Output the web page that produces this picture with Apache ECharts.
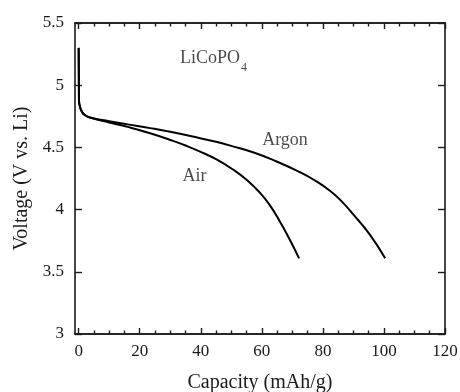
<!DOCTYPE html>
<html>
<head>
<meta charset="utf-8">
<script src="https://cdn.jsdelivr.net/npm/echarts@6/dist/echarts.min.js"></script>
<style>
  html, body { margin: 0; padding: 0; background: #fff; }
  #chart { width: 460px; height: 392px; }
</style>
</head>
<body>
<div id="chart"></div>
<script>
// discharge curves: [capacity mAh/g, voltage V]
var argonCapacity = [0, 0.1, 0.4, 1, 2, 3.7, 10, 16, 23.4, 30, 39.8, 45, 50, 57.8, 65, 72.6, 77, 82.4, 86, 90, 95.5, 100.4];
var argonVoltage  = [5.30, 4.88, 4.83, 4.79, 4.76, 4.74, 4.71, 4.685, 4.655, 4.625, 4.574, 4.545, 4.512, 4.455, 4.385, 4.30, 4.24, 4.15, 4.07, 3.96, 3.795, 3.608];

var airCapacity = [0, 0.1, 0.4, 1, 2, 3.7, 10, 16, 23.4, 30, 35, 39.8, 45, 50.7, 55, 59.4, 62.5, 66, 69, 72.2];
var airVoltage  = [5.30, 4.88, 4.83, 4.79, 4.76, 4.74, 4.70, 4.665, 4.614, 4.56, 4.515, 4.466, 4.405, 4.32, 4.24, 4.135, 4.04, 3.90, 3.765, 3.608];

var xMajorTicks = [0, 20, 40, 60, 80, 100, 120];
var xMinorTicks = [5, 10, 15, 25, 30, 35, 45, 50, 55, 65, 70, 75, 85, 90, 95, 105, 110, 115];

var noteNames = ['LiCoPO{sub|4}', 'Argon', 'Air'];
var noteX = [33.2, 60.1, 34];
var noteY = [5.22, 4.56, 4.27];

function pairs(xs, ys) {
  return xs.map(function (x, i) { return [x, ys[i]]; });
}

var font = "'Liberation Serif', 'Times New Roman', serif";
var ink = '#1a1a1a';

function xAxisDef(pos, ticks, len, showLabel) {
  return {
    type: 'value',
    position: pos,
    min: -1.2,
    max: 120,
    splitLine: { show: false },
    axisLine: { show: true, onZero: false, lineStyle: { color: ink, width: 1.6 } },
    axisTick: { show: true, inside: true, length: len, customValues: ticks, lineStyle: { color: ink, width: 1.4 } },
    axisLabel: showLabel
      ? { show: true, customValues: ticks, margin: 9, color: ink, fontSize: 17, fontFamily: font }
      : { show: false }
  };
}

var bottomAxis = xAxisDef('bottom', xMajorTicks, 6, true);
bottomAxis.name = 'Capacity (mAh/g)';
bottomAxis.nameLocation = 'middle';
bottomAxis.nameGap = 39;
bottomAxis.nameTextStyle = { color: ink, fontSize: 20, fontFamily: font };

var chart = echarts.init(document.getElementById('chart'));
chart.setOption({
  animation: false,
  backgroundColor: '#fff',
  grid: { left: 75, right: 15, top: 23, bottom: 58, containLabel: false, outerBoundsMode: 'none' },
  xAxis: [
    bottomAxis,
    xAxisDef('bottom', xMinorTicks, 3.5, false),
    xAxisDef('top', xMajorTicks, 6, false),
    xAxisDef('top', xMinorTicks, 3.5, false)
  ],
  yAxis: [
    {
      type: 'value',
      position: 'left',
      min: 3,
      max: 5.5,
      interval: 0.5,
      name: 'Voltage (V vs. Li)',
      nameLocation: 'middle',
      nameGap: 40,
      nameTextStyle: { color: ink, fontSize: 20, fontFamily: font },
      splitLine: { show: false },
      axisLine: { show: true, onZero: false, lineStyle: { color: ink, width: 1.6 } },
      axisTick: { show: true, inside: true, length: 7, lineStyle: { color: ink, width: 1.4 } },
      axisLabel: { margin: 11, color: ink, fontSize: 17, fontFamily: font }
    },
    {
      type: 'value',
      position: 'right',
      min: 3,
      max: 5.5,
      interval: 0.5,
      splitLine: { show: false },
      axisLine: { show: true, onZero: false, lineStyle: { color: ink, width: 1.6 } },
      axisTick: { show: true, inside: true, length: 7, lineStyle: { color: ink, width: 1.4 } },
      axisLabel: { show: false }
    }
  ],
  series: [
    {
      name: 'Argon',
      type: 'line',
      data: pairs(argonCapacity, argonVoltage),
      showSymbol: false,
      smooth: 0.5,
      lineStyle: { color: '#000', width: 2 }
    },
    {
      name: 'Air',
      type: 'line',
      data: pairs(airCapacity, airVoltage),
      showSymbol: false,
      smooth: 0.5,
      lineStyle: { color: '#000', width: 2 }
    },
    {
      name: 'notes',
      type: 'scatter',
      symbolSize: 0,
      silent: true,
      data: noteNames.map(function (n, i) { return { value: [noteX[i], noteY[i]], name: n }; }),
      label: {
        show: true,
        position: 'right',
        distance: 0,
        formatter: function (p) { return p.name; },
        color: ink,
        fontSize: 18,
        fontFamily: font,
        rich: {
          sub: { fontSize: 12, fontFamily: font, color: ink, verticalAlign: 'bottom', padding: [20, 0, 0, 1] }
        }
      }
    }
  ]
});
</script>
</body>
</html>
